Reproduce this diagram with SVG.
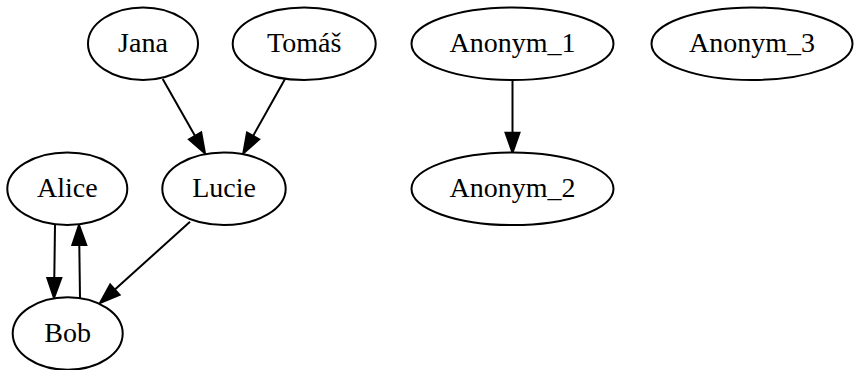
<svg xmlns="http://www.w3.org/2000/svg" width="854" height="370" viewBox="0 0 854 370">
<style>
.node ellipse{fill:#fff;stroke:#000;stroke-width:2}
.node text{font-family:"Liberation Serif","Times New Roman",serif;font-size:28px;text-anchor:middle;fill:#000}
.edge line{stroke:#000;stroke-width:2}
.edge polygon{fill:#000;stroke:#000;stroke-width:2}
</style>
<rect width="854" height="370" fill="#fff"/>
<g id="edges">
<g class="edge" id="e_jana_lucie"><line x1="162.7" y1="79" x2="195.1" y2="135.9"/><polygon points="189,139.4 201.2,132.4 205,153.3"/></g>
<g class="edge" id="e_tomas_lucie"><line x1="285" y1="79" x2="253.1" y2="135.9"/><polygon points="259.2,139.3 247,132.5 243.3,153.3"/></g>
<g class="edge" id="e_anon1_anon2"><line x1="512.5" y1="80.5" x2="512.5" y2="132.7"/><polygon points="505.5,132.7 519.5,132.7 512.5,152.7"/></g>
<g class="edge" id="e_alice_bob"><line x1="55" y1="225" x2="54.3" y2="278"/><polygon points="47.3,278 61.3,278 54,298"/></g>
<g class="edge" id="e_bob_alice"><line x1="80" y1="298" x2="79.3" y2="245"/><polygon points="72.3,245 86.3,245 79,225"/></g>
<g class="edge" id="e_lucie_bob"><line x1="190" y1="221.7" x2="114.9" y2="289.6"/><polygon points="119.6,294.8 110.2,284.4 100,303"/></g>
</g>
<g class="node" id="Jana"><ellipse cx="143" cy="43.7" rx="55" ry="36.3"/><text x="143" y="51.7">Jana</text></g>
<g class="node" id="Tomas"><ellipse cx="304.2" cy="43.7" rx="71.5" ry="36.3"/><text x="304.2" y="51.7">Tomáš</text></g>
<g class="node" id="Anonym_1"><ellipse cx="512.5" cy="43.7" rx="101" ry="36.3"/><text x="512.5" y="51.7">Anonym_1</text></g>
<g class="node" id="Anonym_3"><ellipse cx="752" cy="43.7" rx="100.5" ry="36.3"/><text x="752" y="51.7">Anonym_3</text></g>
<g class="node" id="Alice"><ellipse cx="67.3" cy="188.8" rx="60" ry="36.3"/><text x="67.3" y="196.8">Alice</text></g>
<g class="node" id="Lucie"><ellipse cx="224" cy="188.8" rx="61.7" ry="36.3"/><text x="224" y="196.8">Lucie</text></g>
<g class="node" id="Anonym_2"><ellipse cx="512.5" cy="188.8" rx="101" ry="36.3"/><text x="512.5" y="196.8">Anonym_2</text></g>
<g class="node" id="Bob"><ellipse cx="67.7" cy="333.5" rx="55" ry="36.3"/><text x="67.7" y="341.5">Bob</text></g>
</svg>
